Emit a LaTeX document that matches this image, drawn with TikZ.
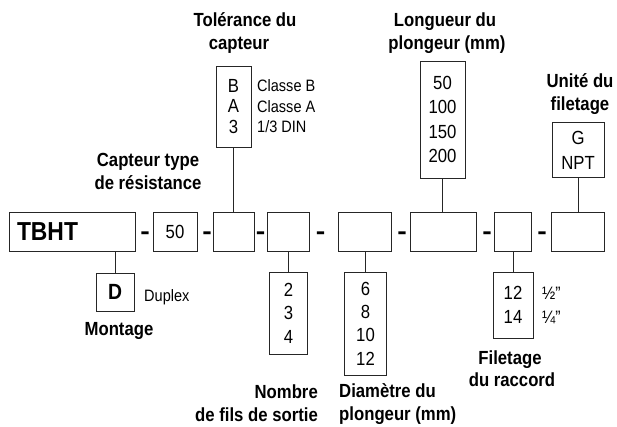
\documentclass[tikz,border=0pt]{standalone}
\usepackage{fontspec}
\usepackage{graphicx}
\setmainfont{Liberation Sans}[FakeStretch=0.88]
\begin{document}
\begin{tikzpicture}[x=1pt,y=-1pt,
  box/.style={draw=black!85, line width=0.9pt, inner sep=0pt, align=center, font=\fontsize{19}{24}\selectfont},
  lbl/.style={font=\fontsize{19}{23}\selectfont\bfseries, inner sep=0pt, anchor=base},
  side/.style={font=\fontsize{16.5}{20}\selectfont, inner sep=0pt, anchor=base west},
  frac/.style={font=\fontsize{18}{20}\selectfont, inner sep=0pt, anchor=base west},
  sepr/.style={font=\fontsize{24}{24}\selectfont\bfseries, inner sep=0pt, anchor=base},
  link/.style={draw=black!85, line width=0.9pt}]
\useasboundingbox (0,0) rectangle (617,427);
% main row
\node[box, minimum height=39pt, text width=110pt, inner xsep=8pt, align=left, font=\fontsize{26}{26}\selectfont\bfseries] (tbht) at (72,231.5) {TBHT};
\node[box, minimum width=44pt, minimum height=39pt] (b50) at (175,231.5) {\raisebox{-2.5pt}{50}};
\node[box, minimum width=41pt, minimum height=39pt] (b3) at (233.5,231.5) {};
\node[box, minimum width=42pt, minimum height=39pt] (b4) at (288,231.5) {};
\node[box, minimum width=53pt, minimum height=39pt] (b5) at (364.5,231.5) {};
\node[box, minimum width=66pt, minimum height=39pt] (b6) at (443,231.5) {};
\node[box, minimum width=37pt, minimum height=39pt] (b7) at (512.5,231.5) {};
\node[box, minimum width=53pt, minimum height=39pt] (b8) at (577.5,231.5) {};
% dashes
\node[sepr] (d1) at (145,240) {\scalebox{1.35}[1]{-}};
\node[sepr] (d2) at (207,240) {\scalebox{1.35}[1]{-}};
\node[sepr] (d3) at (260.5,240) {\scalebox{1.35}[1]{-}};
\node[sepr] (d4) at (320.5,240) {\scalebox{1.35}[1]{-}};
\node[sepr] (d5) at (402,240) {\scalebox{1.35}[1]{-}};
\node[sepr] (d6) at (487,240) {\scalebox{1.35}[1]{-}};
\node[sepr] (d7) at (542,240) {\scalebox{1.35}[1]{-}};
% upper option boxes
\node[box, minimum width=35pt, minimum height=81pt, font=\fontsize{19}{20.5}\selectfont] (tol) at (233.5,106.5) {B\\A\\3};
\node[box, minimum width=45pt, minimum height=117pt, font=\fontsize{19}{24.3}\selectfont] (long) at (442.5,119.5) {50\\100\\150\\200};
\node[box, minimum width=52pt, minimum height=55pt, font=\fontsize{19}{25}\selectfont] (unit) at (578,150) {G\\NPT};
% lower option boxes
\node[box, minimum width=38pt, minimum height=38pt, font=\fontsize{22}{22}\selectfont\bfseries] (dbox) at (115,292) {D};
\node[box, minimum width=38pt, minimum height=82pt, font=\fontsize{19}{23.5}\selectfont] (fils) at (288.5,313) {2\\3\\4};
\node[box, minimum width=42pt, minimum height=103pt, font=\fontsize{19}{23.3}\selectfont] (diam) at (365.5,323.5) {6\\8\\10\\12};
\node[box, minimum width=40pt, minimum height=66pt, font=\fontsize{19}{24}\selectfont] (racc) at (513,305) {12\\14};
% connectors
\draw[link] (tol.south) -- (tol.south |- b3.north);
\draw[link] (long.south) -- (long.south |- b6.north);
\draw[link] (unit.south) -- (unit.south |- b8.north);
\draw[link] (dbox.north) -- (dbox.north |- tbht.south);
\draw[link] (fils.north) -- (fils.north |- b4.south);
\draw[link] (diam.north) -- (diam.north |- b5.south);
\draw[link] (racc.north) -- (racc.north |- b7.south);
% side texts
\node[side] (cb) at (257,92) {Classe B};
\node[side] (ca) at (257,112.5) {Classe A};
\node[side] (cd) at (257,133) {1/3 DIN};
\node[side] (dup) at (144,301) {Duplex};
\node[frac] (f12) at (542,299) {½"};
\node[frac] (f14) at (542,323) {¼"};
% titles
\node[lbl] (t1a) at (245,27) {Tolérance du};
\node[lbl] (t1b) at (239,50) {capteur};
\node[lbl] (t2a) at (445,27) {Longueur du};
\node[lbl] (t2b) at (447,50) {plongeur (mm)};
\node[lbl] (t3a) at (580,88) {Unité du};
\node[lbl] (t3b) at (580,111) {filetage};
\node[lbl] (t4a) at (148,167) {Capteur type};
\node[lbl] (t4b) at (148,190) {de résistance};
\node[lbl] (t5) at (119,335) {Montage};
\node[lbl, anchor=base east] (t6a) at (318,398) {Nombre};
\node[lbl, anchor=base east] (t6b) at (318,421) {de fils de sortie};
\node[lbl, anchor=base west] (t7a) at (339,397) {Diamètre du};
\node[lbl, anchor=base west] (t7b) at (339,420) {plongeur (mm)};
\node[lbl] (t8a) at (510,364) {Filetage};
\node[lbl] (t8b) at (512,386) {du raccord};
\end{tikzpicture}
\end{document}
